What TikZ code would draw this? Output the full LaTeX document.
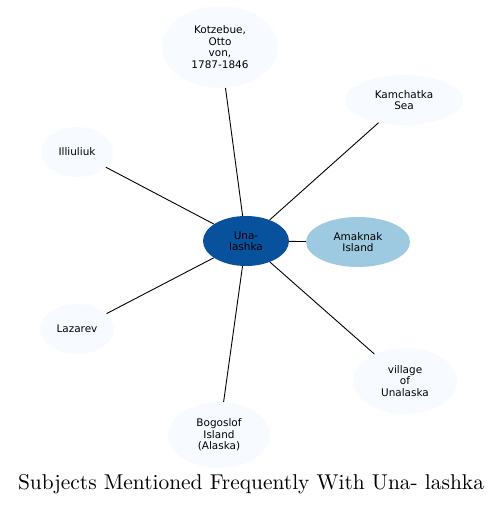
\documentclass[tikz,border=0pt]{standalone}
\usepackage{fontspec}
\newfontfamily\nodefont{DejaVu Sans}
\newfontfamily\titlefont{lmroman10-regular.otf}
\usetikzlibrary{shapes.geometric}
\definecolor{hub}{HTML}{08519C}
\definecolor{mid}{HTML}{9ECAE1}
\definecolor{pale}{HTML}{F7FBFF}
\begin{document}
\begin{tikzpicture}[x=1bp,y=-1bp,
  ent/.style={ellipse,fill=pale,draw=none,inner sep=0pt,align=center,
    font=\nodefont\fontsize{10.5}{11.5}\selectfont},
  edge/.style={draw=black,line width=0.9bp}]
\useasboundingbox (0,0) rectangle (503,505);
\node[ent,fill=hub,minimum width=86bp,minimum height=50bp] (u) at (246,241) {Una-\\lashka};
\node[ent,fill=mid,minimum width=104bp,minimum height=50bp] (a) at (358,242) {Amaknak\\Island};
\node[ent,minimum width=116bp,minimum height=82bp] (k) at (220,47) {Kotzebue,\\Otto\\von,\\1787-1846};
\node[ent,minimum width=118bp,minimum height=50bp] (ks) at (404,100) {Kamchatka\\Sea};
\node[ent,minimum width=72bp,minimum height=50bp] (i) at (77,152) {Illiuliuk};
\node[ent,minimum width=74bp,minimum height=50bp] (l) at (77,329) {Lazarev};
\node[ent,minimum width=102bp,minimum height=66bp] (b) at (219,435) {Bogoslof\\Island\\(Alaska)};
\node[ent,minimum width=104bp,minimum height=66bp] (v) at (405,381) {village\\of\\Unalaska};
\foreach \n in {a,k,ks,i,l,b,v} \draw[edge] (u) -- (\n);
\node[font=\titlefont\fontsize{21.5}{24}\selectfont] (t) at (251,484) {Subjects Mentioned Frequently With Una- lashka};
\end{tikzpicture}
\end{document}
